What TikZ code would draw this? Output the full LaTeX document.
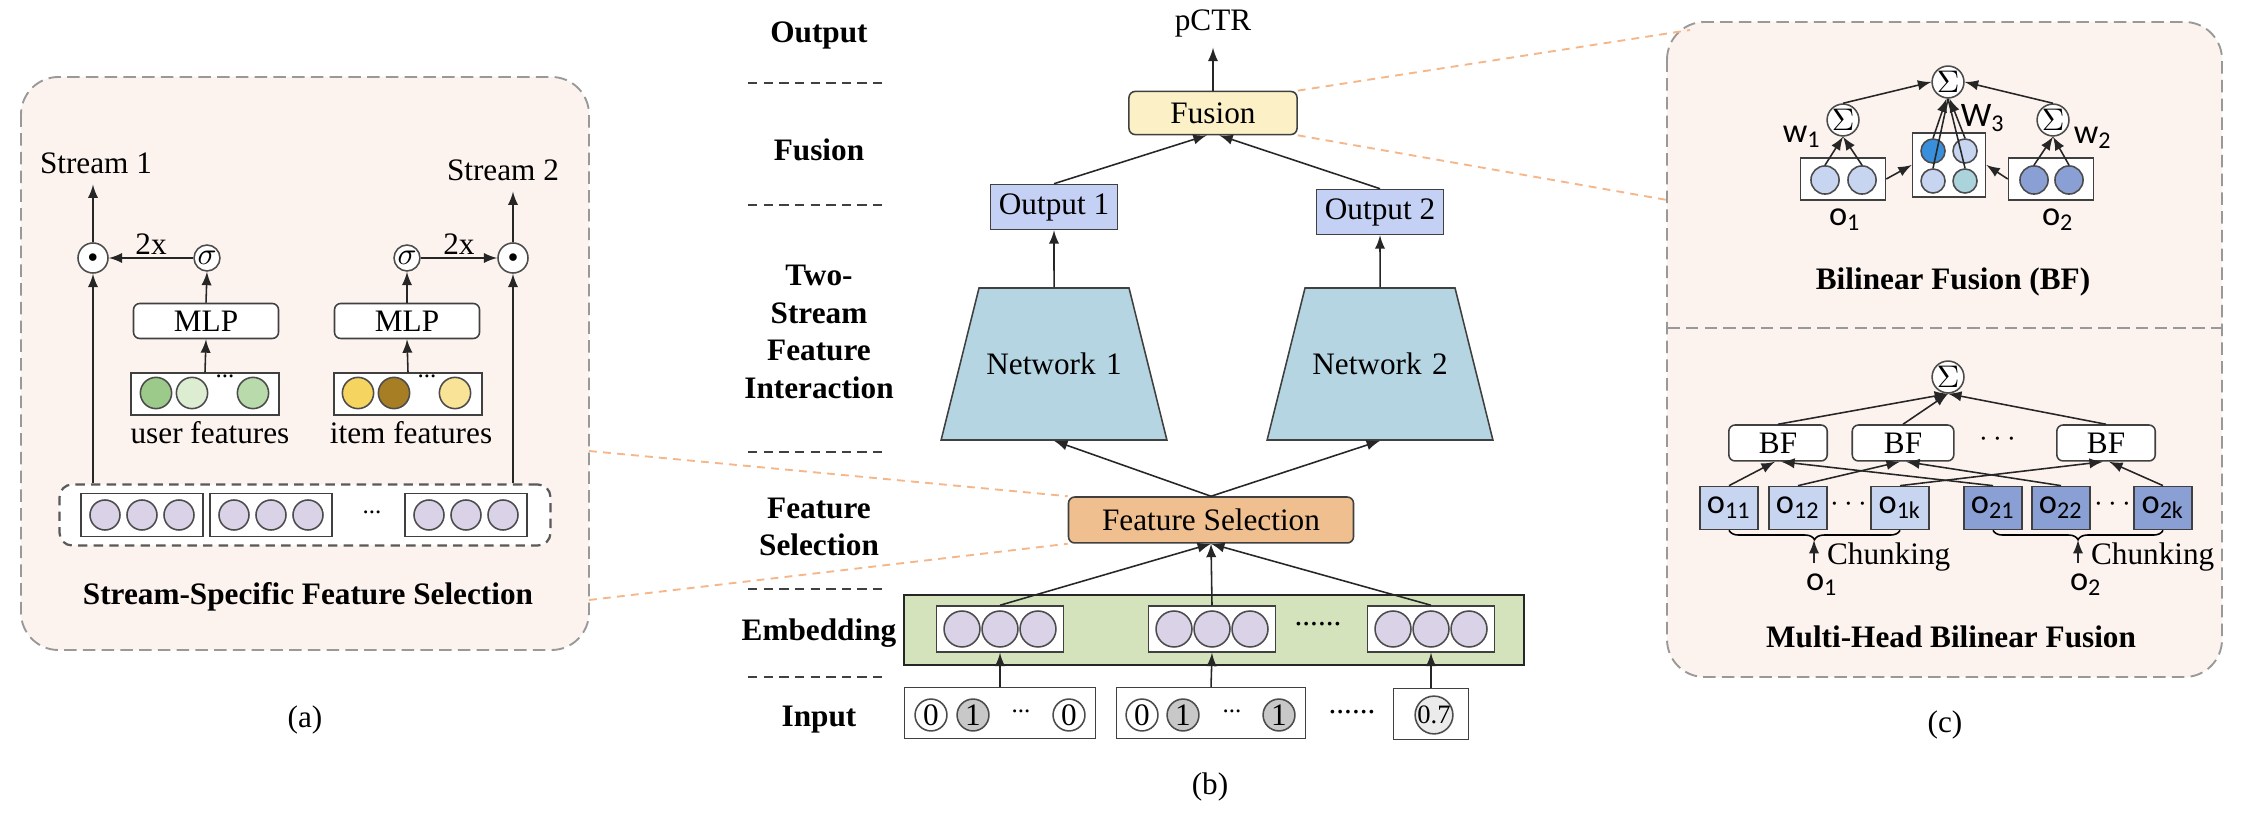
\documentclass[tikz,border=0pt]{standalone}
\usepackage{fontspec}
\setmainfont{Liberation Serif}
\newfontfamily\calfont{Carlito}
\usepackage{tikz}
\usetikzlibrary{shapes,arrows,positioning,decorations.pathreplacing}

\definecolor{panelbg}{HTML}{FCF3EF}
\definecolor{zoomcol}{HTML}{F5B68A}
\definecolor{fusecol}{HTML}{FBF0C6}
\definecolor{outcol}{HTML}{C4D1F4}
\definecolor{netcol}{HTML}{B4D5E1}
\definecolor{selcol}{HTML}{EFBF8F}
\definecolor{embcol}{HTML}{D4E3BC}
\definecolor{embball}{HTML}{DAD2E6}
\definecolor{bitgray}{HTML}{C8C8C8}
\definecolor{ugreenA}{HTML}{9CCA8A}
\definecolor{ugreenB}{HTML}{DCEDD2}
\definecolor{ugreenC}{HTML}{B9DBAB}
\definecolor{iyellowA}{HTML}{F6D460}
\definecolor{ibrown}{HTML}{A87E25}
\definecolor{iyellowC}{HTML}{F9E397}
\definecolor{oonecol}{HTML}{C7D5F1}
\definecolor{otwocol}{HTML}{8A9FD4}
\definecolor{wblue}{HTML}{3A8FDC}
\definecolor{wteal}{HTML}{ABD3DB}

\tikzset{
  box/.style={draw=black!75, line width=0.5pt, inner sep=0pt, minimum height=14.4pt},
  rbox/.style={box, rounded corners=2pt},
  ball/.style={circle, draw=black!70, line width=0.5pt, inner sep=0pt, minimum size=#1},
  ball/.default=9.6pt,
  net/.style={trapezium, trapezium left angle=76, trapezium right angle=76, draw=black!75, line width=0.5pt, fill=netcol, text width=48pt, align=center, inner xsep=0pt, inner ysep=20.8pt},
  panel/.style={draw=black!40, dash pattern=on 4pt off 2pt, line width=0.6pt, fill=panelbg, rounded corners=12pt},
  sepline/.style={draw=black!75, dash pattern=on 3pt off 2pt, line width=0.6pt},
  zoomline/.style={draw=zoomcol, dash pattern=on 2.5pt off 2pt, line width=0.6pt},
  lab/.style={font=\bfseries, align=center},
  olab/.style={font=\fontsize{11}{13}\calfont},
  brace/.style={decorate, decoration={brace, mirror, amplitude=3pt}, line width=0.5pt},
  arr/.style={->, line width=0.5pt, draw=black!85},
}

\begin{document}
\begin{tikzpicture}[x=0.32pt, y=-0.32pt, >=latex]
  \fill[white] (0,0) rectangle (2260,830);
  \useasboundingbox (0,0) rectangle (2260,830);

  % panels (a) and (c)
  \draw[panel] (21,77) rectangle (589,650);
  \draw[panel] (1667,22) rectangle (2222,677);
  \draw[draw=black!40, dash pattern=on 4pt off 2pt, line width=0.6pt] (1667,328) -- (2222,328);

  % layer names
  \node[lab] (lout) at (819,35) {Output};
  \node[lab] (lfus) at (819,150) {Fusion};
  \node[lab] (ltwo) at (819,332) {Two-\\Stream\\Feature\\Interaction};
  \node[lab] (lsel) at (819,527) {Feature\\Selection};
  \node[lab] (lemb) at (819,633) {Embedding};
  \node[lab] (linp) at (819,720) {Input};
  \foreach \y in {83,205,452,589,677}
    \draw[sepline] (748,\y) -- (888,\y);

  % (b) two-stream model
  \node (pctr) at (1213,23) {pCTR};
  \node[rbox, fill=fusecol, minimum width=53.8pt, minimum height=13.8pt] (fusion) at (1213,113) {Fusion};
  \node[box, fill=outcol, minimum width=40.6pt] (out1) at (1054,207) {Output 1};
  \node[box, fill=outcol, minimum width=40.6pt] (out2) at (1380,212) {Output 2};
  \node[net] (net1) at (1054,364) {Network 1};
  \node[net] (net2) at (1380,364) {Network 2};
  \node[rbox, fill=selcol, minimum width=91.2pt, minimum height=14.7pt] (fs) at (1211,520) {Feature Selection};
  \node[draw=black!85, line width=0.8pt, fill=embcol, minimum width=198.4pt, minimum height=22.4pt, inner sep=0pt] (emb) at (1214,630) {};
  \foreach \n/\x in {1/1000,2/1212,3/1431} {
    \node[box, fill=white, minimum width=40.6pt, minimum height=14.7pt] (e\n) at (\x,629) {};
    \foreach \k/\d in {a/-38,b/0,c/38}
      \node[ball=11.5pt, fill=embball] (e\n\k) at (\x+\d,629) {};
  }
  \node (edots) at (1318,624) {......};

  \node[box, minimum width=61.1pt, minimum height=16.3pt] (in1) at (1000,713) {};
  \node[box, minimum width=60.5pt, minimum height=16.3pt] (in2) at (1211,713) {};
  \node[box, minimum width=24pt, minimum height=16.3pt] (in3) at (1431,714) {};
  \node[ball=10.2pt, fill=white] (i1a) at (931,715) {0};
  \node[ball=10.2pt, fill=bitgray] (i1b) at (973,715) {1};
  \node (i1c) at (1021,711) {\footnotesize ...};
  \node[ball=10.2pt, fill=white] (i1d) at (1069,715) {0};
  \node[ball=10.2pt, fill=white] (i2a) at (1142,715) {0};
  \node[ball=10.2pt, fill=bitgray] (i2b) at (1183,715) {1};
  \node (i2c) at (1232,711) {\footnotesize ...};
  \node[ball=10.2pt, fill=bitgray] (i2d) at (1279,715) {1};
  \node[ball=11.5pt, fill=black!8] (i3a) at (1434,715) {\fontsize{8.5}{9}\selectfont 0.7};
  \node (idots) at (1352,712) {......};
  \node (capb) at (1210,787) {(b)};

  \draw[arr] (in1.north) -- (e1.south);
  \draw[arr] (in2.north) -- (e2.south);
  \draw[arr] (in3.north) -- (e3.south);
  \draw[arr] (e1.north) -- (fs.south);
  \draw[arr] (e2.north) -- (fs.south);
  \draw[arr] (e3.north) -- (fs.south);
  \draw[arr] (fs.north) -- (net1.south);
  \draw[arr] (fs.north) -- (net2.south);
  \draw[arr] (net1.north) -- (out1.south);
  \draw[arr] (net2.north) -- (out2.south);
  \draw[arr] (out1.north) -- ([xshift=-2pt]fusion.south);
  \draw[arr] (out2.north) -- ([xshift=2pt]fusion.south);
  \draw[arr] (fusion.north) -- (pctr.south);

  % zoom guides
  \coordinate (za) at (589,451);
  \coordinate (zb) at (589,600);
  \coordinate (zc) at (1690,30);
  \coordinate (zd) at (1667,200);
  \draw[zoomline] (za) -- (fs.north west);
  \draw[zoomline] (zb) -- (fs.south west);
  \draw[zoomline] (fusion.north east) -- (zc);
  \draw[zoomline] (fusion.south east) -- (zd);

  % (a) stream-specific feature selection
  \node (st1) at (96,163) {Stream 1};
  \node (st2) at (503,170) {Stream 2};
  \node[ball, fill=white] (dot1) at (93,258) {\tiny$\bullet$};
  \node[ball, fill=white] (dot2) at (513,258) {\tiny$\bullet$};
  \node[ball=8.3pt, fill=white] (sig1) at (207,258) {$\sigma$};
  \node[ball=8.3pt, fill=white] (sig2) at (407,258) {$\sigma$};
  \node[rbox, fill=white, minimum width=46.4pt, minimum height=11.2pt] (mlp1) at (206,321) {MLP};
  \node[rbox, fill=white, minimum width=46.4pt, minimum height=11.2pt] (mlp2) at (407,321) {MLP};
  \node[box, fill=white, minimum width=47.4pt, minimum height=13.4pt] (ufeat) at (205,394) {};
  \node[box, fill=white, minimum width=47.4pt, minimum height=13.4pt] (ifeat) at (408,394) {};
  \node[ball=10pt, fill=ugreenA] (u1) at (156,393) {};
  \node[ball=10pt, fill=ugreenB] (u2) at (192,393) {};
  \node[ball=10pt, fill=ugreenC] (u3) at (253,393) {};
  \node (udots) at (225,376) {\footnotesize ...};
  \node[ball=10pt, fill=iyellowA] (v1) at (358,393) {};
  \node[ball=10pt, fill=ibrown] (v2) at (394,393) {};
  \node[ball=10pt, fill=iyellowC] (v3) at (455,393) {};
  \node (vdots) at (427,376) {\footnotesize ...};
  \node (ulab) at (210,433) {user features};
  \node (ilab) at (411,433) {item features};

  \node[draw=black!65, dash pattern=on 3pt off 2pt, line width=0.7pt, rounded corners=4pt, fill=white, minimum width=157.1pt, minimum height=19.5pt] (sel) at (305,515) {};
  \foreach \n/\x in {1/142,2/271,3/466} {
    \node[box, fill=white, minimum width=39pt, minimum height=13.8pt] (s\n) at (\x,515) {};
    \foreach \k/\d in {a/-37,b/0,c/37}
      \node[ball, fill=embball] (s\n\k) at (\x+\d,515) {};
  }
  \node (sdots) at (372,512) {\footnotesize ...};
  \node[lab] (ssfs) at (308,597) {Stream-Specific Feature Selection};
  \node (capa) at (305,720) {(a)};

  \draw[arr] (sel.north -| dot1) -- (dot1.south);
  \draw[arr] (dot1.north) -- (dot1 |- st1.south);
  \draw[arr] (sel.north -| dot2) -- (dot2.south);
  \draw[arr] (dot2.north) -- (dot2 |- st2.south);
  \draw[arr] (ufeat.north) -- (mlp1.south);
  \draw[arr] (mlp1.north) -- (sig1.south);
  \draw[arr] (sig1.west) -- node[above, inner sep=1pt] {2x} (dot1.east);
  \draw[arr] (ifeat.north) -- (mlp2.south);
  \draw[arr] (mlp2.north) -- (sig2.south);
  \draw[arr] (sig2.east) -- node[above, inner sep=1pt] {2x} (dot2.west);

  % (c) bilinear fusion
  \node[ball=10.2pt, fill=white] (sgt) at (1948,82) {$\Sigma$};
  \node[ball=10.2pt, fill=white] (sgl) at (1843,120) {$\Sigma$};
  \node[ball=10.2pt, fill=white] (sgr) at (2053,120) {$\Sigma$};
  \node[box, fill=white, minimum width=27.2pt, minimum height=13.4pt] (bo1) at (1843,179) {};
  \node[box, fill=white, minimum width=23.4pt, minimum height=20.5pt] (bmid) at (1949,165) {};
  \node[box, fill=white, minimum width=27.2pt, minimum height=13.4pt] (bo2) at (2051,179) {};
  \node[ball=9pt, fill=oonecol] (c11) at (1825,180) {};
  \node[ball=9pt, fill=oonecol] (c12) at (1862,180) {};
  \node[ball=9pt, fill=otwocol] (c21) at (2034,180) {};
  \node[ball=9pt, fill=otwocol] (c22) at (2069,180) {};
  \node[ball=7.7pt, fill=wblue] (m11) at (1933,151) {};
  \node[ball=7.7pt, fill=oonecol] (m12) at (1965,151) {};
  \node[ball=7.7pt, fill=oonecol] (m21) at (1933,181) {};
  \node[ball=7.7pt, fill=wteal] (m22) at (1965,181) {};
  \node[olab] (w1) at (1802,137) {w\textsubscript{1}};
  \node[olab] (w3) at (1983,118) {W\textsubscript{3}};
  \node[olab] (w2) at (2093,138) {w\textsubscript{2}};
  \node[olab] (lo1) at (1845,220) {o\textsubscript{1}};
  \node[olab] (lo2) at (2058,220) {o\textsubscript{2}};

  \draw[arr] (c11.north) -- (sgl.south);
  \draw[arr] (c12.north) -- (sgl.south);
  \draw[arr] (c21.north) -- (sgr.south);
  \draw[arr] (c22.north) -- (sgr.south);
  \draw[arr] (m11.north) -- ([xshift=-0.5pt]sgt.south);
  \draw[arr] (m12.north) -- ([xshift=0.5pt]sgt.south);
  \draw[line width=0.5pt, draw=black!85] (m21.north) -- (sgt.south);
  \draw[line width=0.5pt, draw=black!85] (m22.north) -- (sgt.south);
  \draw[arr] (sgl.north) -- (sgt.west);
  \draw[arr] (sgr.north) -- (sgt.east);
  \draw[arr] (bo1.east) -- (bmid.west);
  \draw[arr] (bo2.west) -- (bmid.east);
  \node[lab] (bflab) at (1953,282) {Bilinear Fusion (BF)};

  % (c) multi-head bilinear fusion
  \node[ball=10.2pt, fill=white] (msum) at (1948,377) {$\Sigma$};
  \node[rbox, fill=white, minimum width=31.5pt, minimum height=11.5pt] (bf1) at (1778,443) {BF};
  \node[rbox, fill=white, minimum width=32.5pt, minimum height=11.5pt] (bf2) at (1903,443) {BF};
  \node[rbox, fill=white, minimum width=31.5pt, minimum height=11.5pt] (bf3) at (2106,443) {BF};
  \node (bfdots) at (1998,440) {$\cdots$};
  \node[box, fill=oonecol, minimum width=18.6pt, minimum height=13.8pt, olab] (o11) at (1729,508) {o\textsubscript{11}};
  \node[box, fill=oonecol, minimum width=18.6pt, minimum height=13.8pt, olab] (o12) at (1798,508) {o\textsubscript{12}};
  \node[box, fill=oonecol, minimum width=18.6pt, minimum height=13.8pt, olab] (o1k) at (1900,508) {o\textsubscript{1k}};
  \node[box, fill=otwocol, minimum width=18.6pt, minimum height=13.8pt, olab] (o21) at (1993,508) {o\textsubscript{21}};
  \node[box, fill=otwocol, minimum width=18.6pt, minimum height=13.8pt, olab] (o22) at (2061,508) {o\textsubscript{22}};
  \node[box, fill=otwocol, minimum width=18.6pt, minimum height=13.8pt, olab] (o2k) at (2163,508) {o\textsubscript{2k}};
  \node (cdots1) at (1849,505) {$\cdots$};
  \node (cdots2) at (2113,505) {$\cdots$};

  \draw[arr] (o11.north) -- ([xshift=-1pt]bf1.south);
  \draw[arr] (o21.north) -- ([xshift=1pt]bf1.south);
  \draw[arr] (o12.north) -- ([xshift=-1pt]bf2.south);
  \draw[arr] (o22.north) -- ([xshift=1pt]bf2.south);
  \draw[arr] (o1k.north) -- ([xshift=-1pt]bf3.south);
  \draw[arr] (o2k.north) -- ([xshift=1pt]bf3.south);
  \foreach \b in {bf1,bf2,bf3}
    \draw[arr] (\b.north) -- (msum.south);

  \draw[brace] (o11.south) -- (o1k.south);
  \draw[brace] (o21.south) -- (o2k.south);
  \coordinate (tip1) at (1814,540);
  \coordinate (tip2) at (2078,540);
  \node[olab] (ol1) at (1822,585) {o\textsubscript{1}};
  \node[olab] (ol2) at (2086,585) {o\textsubscript{2}};
  \draw[arr] (ol1.north -| tip1) -- (tip1);
  \draw[arr] (ol2.north -| tip2) -- (tip2);
  \node[anchor=west] (chk1) at (1816,557) {Chunking};
  \node[anchor=west] (chk2) at (2080,557) {Chunking};
  \node[lab] (mhlab) at (1951,637) {Multi-Head Bilinear Fusion};
  \node (capc) at (1945,725) {(c)};
\end{tikzpicture}
\end{document}
